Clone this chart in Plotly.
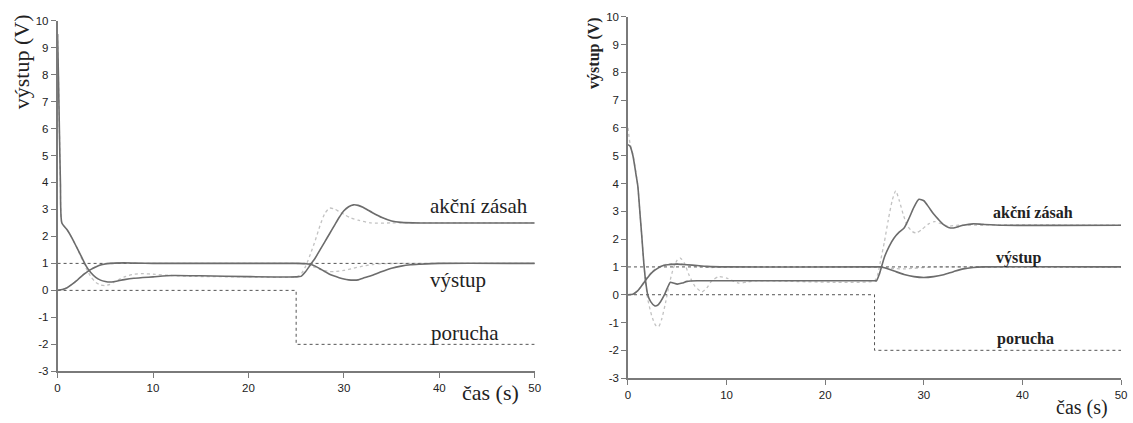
import plotly.graph_objects as go

# ---------------- LEFT PANEL DATA ----------------
L_t_u = [0, 0.1, 0.2, 0.3, 0.45, 1.0, 1.5, 2.0, 2.5, 3.0, 3.5, 4.0, 4.5, 5.0, 5.5, 6.0, 7.0, 8.0, 10, 12, 15, 20, 25,
         25.5, 26, 26.5, 27, 27.5, 28, 28.5, 29, 29.5, 30, 30.5, 31, 31.5, 32, 32.5, 33, 34, 35, 36, 38, 40, 50]
L_u = [9.5, 7.8, 5.8, 4.0, 2.5, 2.25, 1.95, 1.6, 1.25, 0.9, 0.65, 0.48, 0.38, 0.33, 0.31, 0.33, 0.4, 0.45, 0.5, 0.55, 0.54, 0.51, 0.5,
       0.52, 0.7, 0.95, 1.2, 1.5, 1.8, 2.1, 2.4, 2.7, 2.95, 3.1, 3.17, 3.15, 3.08, 2.98, 2.88, 2.7, 2.57, 2.52, 2.5, 2.5, 2.5]

L_t_ud = [0, 0.1, 0.2, 0.3, 0.45, 1.0, 1.5, 2.0, 2.5, 3.0, 3.5, 4.0, 4.5, 5.0, 5.5, 6.0, 7.0, 8.0, 9.0, 10, 12, 14, 20, 25,
          25.5, 26, 26.5, 27, 27.5, 28, 28.5, 29, 29.5, 30, 30.7, 31.5, 32.8, 35, 50]
L_ud = [9.5, 7.8, 5.8, 4.0, 2.5, 2.25, 1.95, 1.6, 1.2, 0.82, 0.5, 0.3, 0.2, 0.18, 0.22, 0.32, 0.5, 0.6, 0.62, 0.6, 0.55, 0.52, 0.5, 0.5,
        0.6, 0.9, 1.35, 1.85, 2.4, 2.85, 3.05, 3.02, 2.92, 2.82, 2.69, 2.6, 2.5, 2.5, 2.5]

L_t_y = [0, 0.5, 1, 1.5, 2, 2.5, 3, 3.5, 4, 4.5, 5, 5.5, 6, 7, 8, 10, 25, 26, 26.5, 27, 27.5, 28, 28.5, 29, 29.5, 30,
         30.5, 31, 31.5, 32, 33, 34, 35, 36, 37, 38, 40, 50]
L_y = [0, 0.03, 0.1, 0.22, 0.36, 0.52, 0.66, 0.78, 0.87, 0.94, 0.98, 1.0, 1.01, 1.02, 1.01, 1.0, 1.0, 0.99, 0.97, 0.9, 0.8, 0.7, 0.6, 0.53, 0.47, 0.42,
       0.39, 0.38, 0.39, 0.45, 0.56, 0.7, 0.82, 0.9, 0.95, 0.97, 1.0, 1.0]

L_t_yd = [0, 0.5, 1, 1.5, 2, 2.5, 3, 3.5, 4, 4.5, 5, 5.5, 6, 7, 8, 10, 25, 26, 26.5, 27, 27.5, 28, 28.5, 29, 30, 31, 32, 33, 34, 50]
L_yd = [0, 0.03, 0.1, 0.22, 0.37, 0.53, 0.67, 0.79, 0.88, 0.95, 0.99, 1.01, 1.02, 1.02, 1.01, 1.0, 1.0, 0.98, 0.92, 0.85, 0.78, 0.73, 0.7, 0.7,
        0.74, 0.82, 0.9, 0.96, 0.99, 1.0]

# ---------------- RIGHT PANEL DATA ----------------
R_t_u = [0, 0.2, 0.5, 0.8, 1.0, 1.2, 1.4, 1.6, 1.8, 2.0, 2.3, 2.7, 3.0, 3.3, 3.7, 4.0, 4.3, 4.6, 5.0, 5.5, 6.0, 7, 10, 25,
         25.2, 25.5, 26, 26.5, 27, 27.5, 28, 28.5, 29, 29.5, 30, 30.5, 31, 31.5, 32, 32.5, 33, 33.5, 34, 35, 36, 38, 50]
R_u = [5.4, 5.35, 5.0, 4.35, 3.9, 3.0, 2.1, 1.15, 0.45, 0.0, -0.25, -0.4, -0.38, -0.25, 0.0, 0.25, 0.45, 0.42, 0.38, 0.42, 0.48, 0.5, 0.5, 0.5,
       0.5, 0.75, 1.35, 1.75, 2.05, 2.25, 2.4, 2.75, 3.15, 3.43, 3.38, 3.15, 2.9, 2.7, 2.52, 2.42, 2.4, 2.45, 2.5, 2.55, 2.53, 2.5, 2.5]

R_t_ud = [0, 0.2, 0.5, 0.8, 1.0, 1.2, 1.4, 1.6, 1.8, 2.0, 2.4, 2.8, 3.1, 3.4, 3.8, 4.2, 4.6, 5.0, 5.3, 5.7, 6.2, 6.8, 7.5, 8.0, 8.5,
          9.2, 10, 11.2, 12, 13, 25, 25.3, 25.6, 26.0, 26.4, 26.8, 27.15, 27.5, 27.9, 28.3, 28.8, 29.2, 29.8, 30.5, 31.1, 31.8,
          32.5, 33.5, 50]
R_ud = [6.0, 5.45, 5.05, 4.4, 3.9, 3.0, 2.1, 1.15, 0.4, -0.15, -0.75, -1.1, -1.15, -0.9, -0.3, 0.4, 0.95, 1.25, 1.32, 1.15, 0.7, 0.3, 0.1, 0.25, 0.5,
        0.65, 0.6, 0.42, 0.45, 0.5, 0.5, 0.7, 1.2, 1.9, 2.7, 3.4, 3.74, 3.4, 2.9, 2.5, 2.28, 2.22, 2.35, 2.55, 2.63, 2.55,
        2.47, 2.5, 2.5]

R_t_y = [0, 0.5, 1.0, 1.5, 2.0, 2.5, 3.0, 3.5, 4, 5, 6, 7, 8, 10, 25, 25.5, 26, 27, 28, 29, 30, 31, 32, 33, 34, 35, 36, 50]
R_y = [0, 0.02, 0.15, 0.38, 0.62, 0.82, 0.95, 1.04, 1.08, 1.1, 1.08, 1.05, 1.02, 1.0, 1.0, 1.0, 0.97, 0.85, 0.73, 0.65, 0.62, 0.65,
       0.72, 0.83, 0.93, 0.98, 1.0, 1.0]

R_t_yd = [0, 0.5, 1, 1.5, 2, 2.5, 3, 3.5, 4, 5, 6, 7.5, 8.5, 10, 25, 25.5, 26, 27, 28, 29, 30, 31, 32, 50]
R_yd = [0, 0.02, 0.15, 0.4, 0.65, 0.85, 0.98, 1.06, 1.1, 1.12, 1.08, 1.0, 0.98, 1.0, 1.0, 1.0, 0.98, 0.94, 0.93, 0.95, 0.98, 1.0, 1.0, 1.0]

# reference (setpoint) and disturbance (shared by both panels)
w_t = [0, 50]
w_v = [1, 1]
d_t = [0, 25, 25, 50]
d_v = [0, 0, -2, -2]

x_ticks = [0, 10, 20, 30, 40, 50]
y_ticks = list(range(-3, 11))
y_tick_text = [str(v) for v in y_ticks]   # plain hyphen minus as in the original

# ---------------- STYLES ----------------
SOLID = dict(color="#6c6c6c", width=1.6)
DOTTED = dict(color="#c2c2c2", width=1.3, dash="dot")
DASHED = dict(color="#555555", width=1.0, dash="3px,3px")

fig = go.Figure()

def add_panel(xa, ya, tu, u, tud, ud, ty, y, tyd, yd):
    fig.add_trace(go.Scatter(x=tud, y=ud, mode="lines", line=dict(**DOTTED, shape="spline", smoothing=0.6), xaxis=xa, yaxis=ya))
    fig.add_trace(go.Scatter(x=tyd, y=yd, mode="lines", line=dict(**DOTTED, shape="spline", smoothing=0.6), xaxis=xa, yaxis=ya))
    fig.add_trace(go.Scatter(x=w_t, y=w_v, mode="lines", line=DASHED, xaxis=xa, yaxis=ya))
    fig.add_trace(go.Scatter(x=d_t, y=d_v, mode="lines", line=DASHED, xaxis=xa, yaxis=ya))
    fig.add_trace(go.Scatter(x=tu, y=u, mode="lines", line=dict(**SOLID, shape="spline", smoothing=0.6), xaxis=xa, yaxis=ya))
    fig.add_trace(go.Scatter(x=ty, y=y, mode="lines", line=dict(**SOLID, shape="spline", smoothing=0.6), xaxis=xa, yaxis=ya))

add_panel("x", "y", L_t_u, L_u, L_t_ud, L_ud, L_t_y, L_y, L_t_yd, L_yd)
add_panel("x2", "y2", R_t_u, R_u, R_t_ud, R_ud, R_t_y, R_y, R_t_yd, R_yd)

W, H = 1133, 423
def px(x):
    return x / W
def py(y):
    return 1 - y / H

axis_common = dict(showline=True, linecolor="#7a7a7a", linewidth=1.5, ticks="outside", ticklen=5,
                   tickcolor="#7a7a7a", tickwidth=1.2, showgrid=False, zeroline=False,
                   tickfont=dict(family="Arial, Liberation Sans, sans-serif", size=11.5, color="#222222"))

fig.update_layout(
    width=W, height=H, margin=dict(l=0, r=0, t=0, b=0),
    paper_bgcolor="white", plot_bgcolor="white", showlegend=False,
    xaxis=dict(domain=[px(55), px(536)], range=[0, 50], tickvals=x_ticks, anchor="y", **axis_common),
    yaxis=dict(domain=[py(376), py(15)], range=[-3, 10], tickvals=y_ticks, ticktext=y_tick_text, anchor="x", **axis_common),
    xaxis2=dict(domain=[px(630), px(1127)], range=[0, 50], tickvals=x_ticks, anchor="y2", **axis_common),
    yaxis2=dict(domain=[py(383), py(11)], range=[-3, 10], tickvals=y_ticks, ticktext=y_tick_text, anchor="x2", **axis_common),
)

SERIF = "Times New Roman, Liberation Serif, serif"
ann = [
    # left panel
    dict(text="výstup (V)", x=px(19), y=py(57), xref="paper", yref="paper", textangle=-90,
         font=dict(family=SERIF, size=22, color="#222")),
    dict(text="čas (s)", x=px(491), y=py(398), xref="paper", yref="paper",
         font=dict(family=SERIF, size=22, color="#222")),
    dict(text="akční zásah", x=44.2, y=3.13, xref="x", yref="y", font=dict(family=SERIF, size=21, color="#222")),
    dict(text="výstup", x=42.0, y=0.4, xref="x", yref="y", font=dict(family=SERIF, size=21, color="#222")),
    dict(text="porucha", x=42.7, y=-1.58, xref="x", yref="y", font=dict(family=SERIF, size=21, color="#222")),
    # right panel
    dict(text="<b>výstup (V)</b>", x=px(595), y=py(48), xref="paper", yref="paper", textangle=-90,
         font=dict(family=SERIF, size=16, color="#222")),
    dict(text="čas (s)", x=px(1088), y=py(413), xref="paper", yref="paper",
         font=dict(family=SERIF, size=20, color="#222")),
    dict(text="<b>akční zásah</b>", x=41.1, y=2.97, xref="x2", yref="y2", font=dict(family=SERIF, size=16, color="#222")),
    dict(text="<b>výstup</b>", x=39.6, y=1.33, xref="x2", yref="y2", font=dict(family=SERIF, size=16, color="#222")),
    dict(text="<b>porucha</b>", x=40.3, y=-1.61, xref="x2", yref="y2", font=dict(family=SERIF, size=16, color="#222")),
]
for a in ann:
    a.update(showarrow=False, xanchor="center", yanchor="middle")
fig.update_layout(annotations=ann)

fig.write_html("out.html", config={"displayModeBar": False},
               post_script="document.body.style.margin='0px';document.body.style.overflow='hidden';")
